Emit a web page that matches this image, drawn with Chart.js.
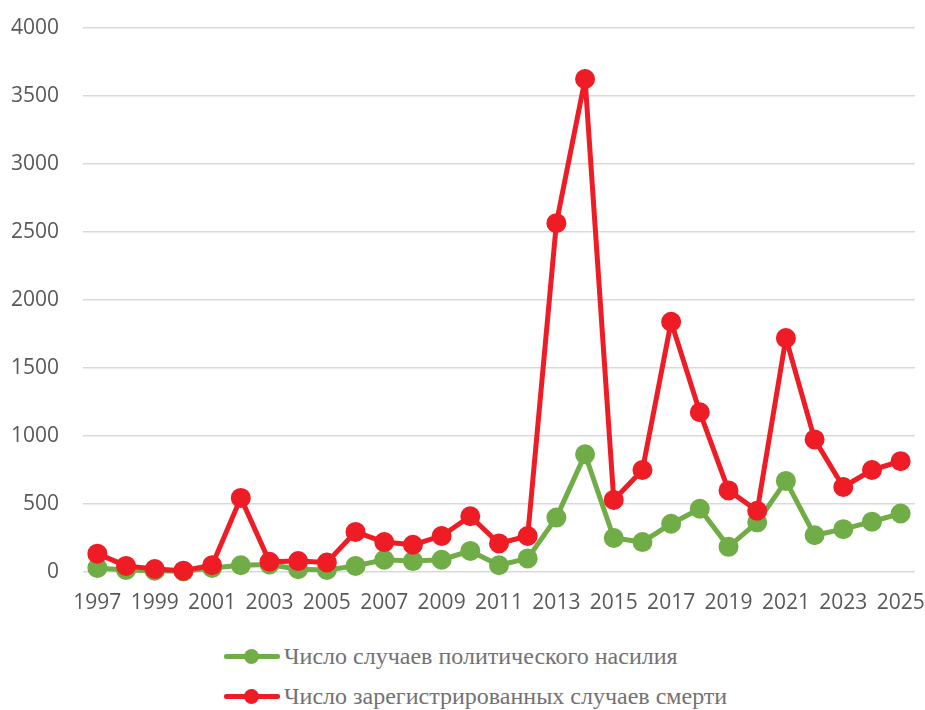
<!DOCTYPE html>
<html><head><meta charset="utf-8">
<script src="https://cdn.jsdelivr.net/npm/chart.js@4/dist/chart.umd.min.js"></script>
<style>
html,body{margin:0;padding:0;background:#fff;}
#wrap{position:relative;width:925px;height:710px;}
#c{position:absolute;left:0;top:0;}
.leg{position:absolute;left:224px;display:flex;align-items:center;font-family:"Liberation Serif","Times New Roman",serif;font-size:24px;color:#727272;white-space:nowrap;}
.mk{position:relative;width:56px;height:15px;margin-right:4px;}
.mk .ln{position:absolute;left:0;right:0;top:5px;height:5px;border-radius:2px;}
.mk .dt{position:absolute;left:20px;top:0;width:15px;height:15px;border-radius:50%;}
</style></head>
<body><div id="wrap"><canvas id="c" width="925" height="630"></canvas>
<div id="legend"></div></div>
<script>
const years = ['1997','1998','1999','2000','2001','2002','2003','2004','2005','2006','2007','2008','2009','2010','2011','2012','2013','2014','2015','2016','2017','2018','2019','2020','2021','2022','2023','2024','2025'];
const violenceCases = [30,15,10,5,30,50,55,20,15,45,90,80,90,155,50,100,400,865,250,220,355,465,185,365,670,270,315,370,430];
const deaths = [135,45,22,10,50,545,75,80,70,295,220,200,265,410,210,265,2565,3625,530,750,1840,1175,600,450,1720,975,625,750,815];
const yTicks = [0,500,1000,1500,2000,2500,3000,3500,4000];
const seriesLabels = ['Число случаев политического насилия','Число зарегистрированных случаев смерти'];
const GREEN = '#70ad47', RED = '#ee1c25';

const ds = (label, data, color, order) => ({label, data, borderColor: color, backgroundColor: color, pointBackgroundColor: color, pointBorderColor: color, borderWidth: 5, borderJoinStyle: 'round', borderCapStyle: 'round', pointRadius: 7.5, pointHoverRadius: 7.5, tension: 0, order, clip: false});

new Chart(document.getElementById('c'), {
  type: 'line',
  data: { labels: years, datasets: [ds(seriesLabels[0], violenceCases, GREEN, 1), ds(seriesLabels[1], deaths, RED, 0)] },
  options: {
    responsive: false, animation: false,
    layout: { autoPadding: false, padding: { left: 0, right: 10, top: 28, bottom: 0 } },
    plugins: { legend: { display: false }, tooltip: { enabled: false } },
    scales: {
      x: {
        offset: true,
        grid: { display: false, drawTicks: false },
        border: { display: false },
        ticks: { autoSkip: false, maxRotation: 0, padding: 18, color: '#595959', font: { family: 'Open Sans', size: 21 },
          callback: function(v, i) { return i % 2 === 0 ? years[i] : ''; } },
        afterFit: (s) => { s.paddingLeft = 0; s.paddingRight = 0; s.height = 58; }
      },
      y: {
        min: 0, max: 4000,
        afterBuildTicks: (axis) => { axis.ticks = yTicks.map(v => ({ value: v })); },
        grid: { color: '#d9d9d9', lineWidth: 1.5, drawTicks: false },
        border: { display: false },
        ticks: { padding: 24, color: '#595959', font: { family: 'Open Sans', size: 21 },
          callback: (v) => String(v) },
        afterFit: (s) => { s.paddingTop = 0; s.paddingBottom = 0; s.width = 83; }
      }
    }
  }
});

const legend = document.getElementById('legend');
[[seriesLabels[0], GREEN, 643], [seriesLabels[1], RED, 683]].forEach(([t, col, top]) => {
  const d = document.createElement('div'); d.className = 'leg'; d.style.top = top + 'px';
  d.innerHTML = '<div class="mk"><div class="ln" style="background:' + col + '"></div><div class="dt" style="background:' + col + '"></div></div><span></span>';
  d.querySelector('span').textContent = t;
  legend.appendChild(d);
});
</script></body></html>
